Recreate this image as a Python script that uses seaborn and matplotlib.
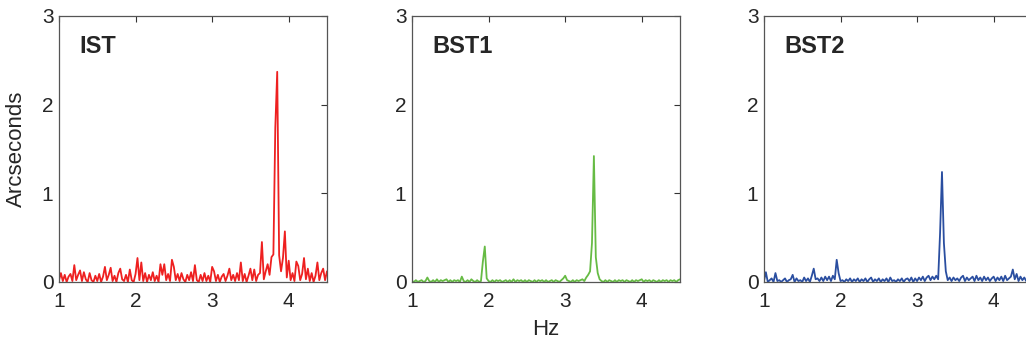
import matplotlib
matplotlib.use("Agg")
import matplotlib.pyplot as plt
import numpy as np
import pandas as pd
import seaborn as sns

# Amplitude spectra (arcseconds), sampled every 0.025 Hz from 1.0 to 4.5 Hz
ist_amp = [
    0.02, 0.10, 0.01, 0.08, 0.00, 0.06, 0.09, 0.01, 0.19, 0.02,
    0.08, 0.13, 0.01, 0.11, 0.03, 0.00, 0.10, 0.02, 0.00, 0.07,
    0.01, 0.09, 0.00, 0.06, 0.17, 0.02, 0.08, 0.16, 0.01, 0.07,
    0.00, 0.10, 0.15, 0.03, 0.01, 0.08, 0.00, 0.14, 0.02, 0.00,
    0.09, 0.27, 0.02, 0.22, 0.01, 0.10, 0.00, 0.08, 0.02, 0.11,
    0.01, 0.07, 0.00, 0.20, 0.08, 0.20, 0.02, 0.09, 0.01, 0.25,
    0.17, 0.02, 0.09, 0.01, 0.10, 0.03, 0.00, 0.08, 0.02, 0.11,
    0.01, 0.19, 0.02, 0.00, 0.08, 0.01, 0.10, 0.01, 0.07, 0.00,
    0.17, 0.12, 0.01, 0.08, 0.00, 0.06, 0.09, 0.01, 0.07, 0.15,
    0.02, 0.08, 0.01, 0.10, 0.02, 0.22, 0.01, 0.09, 0.00, 0.07,
    0.15, 0.02, 0.14, 0.01, 0.08, 0.10, 0.45, 0.03, 0.12, 0.20,
    0.08, 0.28, 0.31, 1.74, 2.37, 0.30, 0.12, 0.27, 0.57, 0.05,
    0.24, 0.02, 0.10, 0.01, 0.23, 0.18, 0.02, 0.09, 0.27, 0.03,
    0.15, 0.01, 0.10, 0.00, 0.07, 0.22, 0.02, 0.10, 0.15, 0.02,
    0.12,
]
bst1_amp = [
    0.01, 0.00, 0.02, 0.00, 0.01, 0.02, 0.00, 0.01, 0.05, 0.01,
    0.00, 0.02, 0.00, 0.03, 0.00, 0.02, 0.01, 0.02, 0.03, 0.00,
    0.02, 0.00, 0.02, 0.01, 0.02, 0.00, 0.06, 0.01, 0.00, 0.02,
    0.00, 0.03, 0.01, 0.00, 0.02, 0.00, 0.01, 0.23, 0.40, 0.04,
    0.01, 0.00, 0.02, 0.00, 0.02, 0.01, 0.02, 0.00, 0.01, 0.02,
    0.00, 0.02, 0.00, 0.03, 0.00, 0.02, 0.01, 0.02, 0.00, 0.02,
    0.00, 0.02, 0.01, 0.00, 0.02, 0.00, 0.02, 0.01, 0.02, 0.00,
    0.02, 0.00, 0.01, 0.02, 0.00, 0.02, 0.01, 0.00, 0.02, 0.04,
    0.07, 0.02, 0.01, 0.00, 0.02, 0.00, 0.02, 0.01, 0.02, 0.03,
    0.01, 0.05, 0.08, 0.12, 0.44, 1.42, 0.28, 0.10, 0.03, 0.01,
    0.00, 0.02, 0.00, 0.02, 0.01, 0.00, 0.02, 0.00, 0.02, 0.01,
    0.02, 0.00, 0.02, 0.01, 0.00, 0.02, 0.00, 0.02, 0.01, 0.02,
    0.03, 0.00, 0.02, 0.01, 0.02, 0.00, 0.02, 0.01, 0.00, 0.02,
    0.00, 0.02, 0.01, 0.02, 0.00, 0.02, 0.01, 0.02, 0.00, 0.02,
    0.03,
]
bst2_amp = [
    0.01, 0.11, 0.00, 0.02, 0.04, 0.00, 0.10, 0.01, 0.02, 0.00,
    0.02, 0.04, 0.00, 0.02, 0.03, 0.08, 0.00, 0.04, 0.01, 0.02,
    0.00, 0.05, 0.01, 0.04, 0.00, 0.07, 0.15, 0.03, 0.04, 0.01,
    0.05, 0.01, 0.06, 0.02, 0.06, 0.01, 0.07, 0.03, 0.25, 0.10,
    0.01, 0.02, 0.00, 0.03, 0.01, 0.04, 0.00, 0.03, 0.01, 0.04,
    0.00, 0.03, 0.01, 0.04, 0.00, 0.03, 0.05, 0.00, 0.03, 0.01,
    0.04, 0.00, 0.03, 0.01, 0.04, 0.00, 0.05, 0.01, 0.02, 0.00,
    0.03, 0.01, 0.04, 0.00, 0.03, 0.04, 0.01, 0.05, 0.00, 0.04,
    0.01, 0.05, 0.02, 0.06, 0.01, 0.05, 0.07, 0.02, 0.06, 0.03,
    0.07, 0.03, 0.55, 1.24, 0.44, 0.12, 0.02, 0.05, 0.01, 0.05,
    0.02, 0.04, 0.01, 0.05, 0.07, 0.01, 0.05, 0.02, 0.04, 0.06,
    0.01, 0.07, 0.02, 0.05, 0.01, 0.06, 0.02, 0.05, 0.01, 0.04,
    0.06, 0.01, 0.05, 0.02, 0.06, 0.01, 0.07, 0.02, 0.04, 0.06,
    0.14, 0.03, 0.09, 0.01, 0.06, 0.02, 0.05, 0.01, 0.06, 0.02,
    0.05,
]

names = ["IST", "BST1", "BST2"]
colors = ["#ee2020", "#66bb44", "#2a4ea0"]
series = [ist_amp, bst1_amp, bst2_amp]
freq = np.linspace(1.0, 4.5, len(ist_amp))

sns.set_style("white")
plt.rcParams["font.family"] = ["Liberation Sans", "DejaVu Sans"]

fig = plt.figure(figsize=(10.26, 3.43), dpi=100)
lefts = [0.0575, 0.4016, 0.7446]

for i in range(3):
    ax = fig.add_axes([lefts[i], 0.178, 0.2612, 0.7755])
    df = pd.DataFrame({"Hz": freq, "amp": series[i]})
    sns.lineplot(data=df, x="Hz", y="amp", ax=ax, color=colors[i], lw=1.3)
    ax.set_xlim(1, 4.5)
    ax.set_ylim(0, 3)
    ax.set_xticks([1, 2, 3, 4])
    ax.set_yticks([0, 1, 2, 3])
    ax.tick_params(direction="in", length=4, width=0.8, top=True, right=True,
                   labelsize=15, color="#333333")
    ax.tick_params(axis="x", pad=7)
    ax.tick_params(axis="y", pad=4)
    for s in ax.spines.values():
        s.set_color("#555555")
        s.set_linewidth(0.9)
    ax.text(1.27, 2.65, names[i], fontsize=17, fontweight="bold", va="center")
    ax.set_xlabel("")
    ax.set_ylabel("")

    if i == 0:
        ax.set_ylabel("Arcseconds", fontsize=16)
        ax.yaxis.set_label_coords(-0.12, 0.5)
    if i == 1:
        ax.set_xlabel("Hz", fontsize=16)
        ax.xaxis.set_label_coords(0.5, -0.14)

fig.savefig("out.png", dpi=100)
